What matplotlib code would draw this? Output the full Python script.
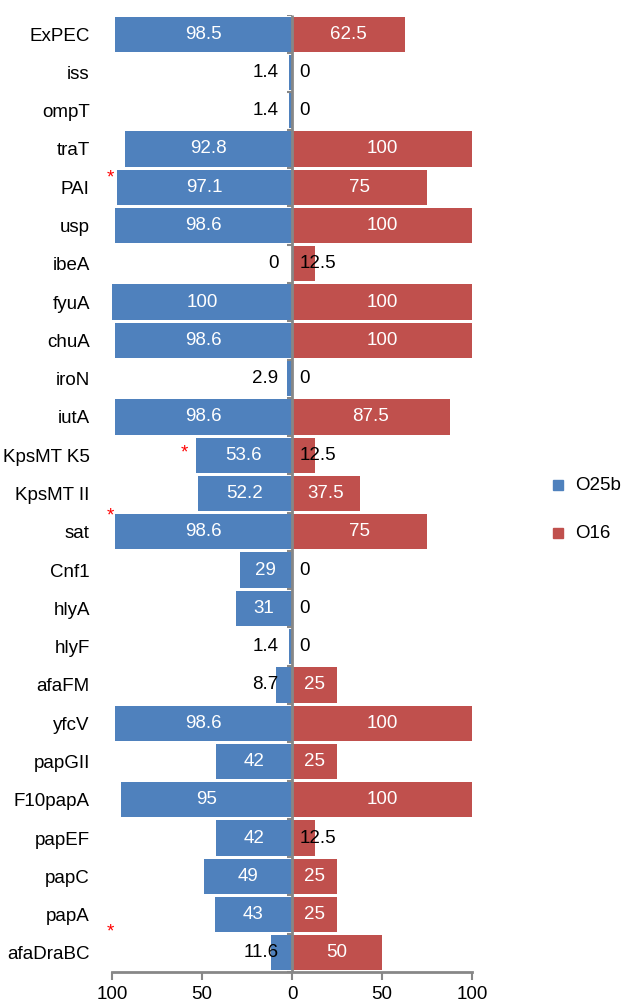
"""Diverging bar chart: virulence gene prevalence, O25b vs O16."""

import matplotlib
matplotlib.use("Agg")
import matplotlib.pyplot as plt
from matplotlib.patches import Rectangle
from matplotlib.transforms import blended_transform_factory

plt.rcParams["font.family"] = ["Liberation Sans", "DejaVu Sans"]

genes = ["ExPEC", "iss", "ompT", "traT", "PAI", "usp", "ibeA", "fyuA", "chuA",
         "iroN", "iutA", "KpsMT K5", "KpsMT II", "sat", "Cnf1", "hlyA", "hlyF",
         "afaFM", "yfcV", "papGII", "F10papA", "papEF", "papC", "papA", "afaDraBC"]
o25b = [98.5, 1.4, 1.4, 92.8, 97.1, 98.6, 0, 100, 98.6, 2.9, 98.6, 53.6, 52.2,
        98.6, 29, 31, 1.4, 8.7, 98.6, 42, 95, 42, 49, 43, 11.6]
o16 = [62.5, 0, 0, 100, 75, 100, 12.5, 100, 100, 0, 87.5, 12.5, 37.5, 75, 0, 0,
       0, 25, 100, 25, 100, 12.5, 25, 25, 50]
# genes marked with a red asterisk (significant difference)
starred = ["PAI", "KpsMT K5", "sat", "afaDraBC"]
series_names = ["O25b", "O16"]

BLUE = "#4F81BD"
RED = "#C0504D"
GREY = "#878787"
FS = 13.5

fig = plt.figure(figsize=(6.21, 10.02), dpi=100)
ax = fig.add_axes([112 / 621, 1 - 972 / 1002, 360 / 621, 957 / 1002])

ys = list(range(len(genes)))
ax.barh(ys, [-v for v in o25b], height=0.92, color=BLUE, zorder=2)
ax.barh(ys, o16, height=0.92, color=RED, zorder=2)

# value labels
for y, v in zip(ys, o25b):
    if v >= 20:
        ax.text(-v / 2, y, f"{v:g}", color="white", ha="center", va="center", fontsize=FS, zorder=4)
    else:
        ax.text(-7.5, y, f"{v:g}", color="black", ha="right", va="center", fontsize=FS, zorder=4)
for y, v in zip(ys, o16):
    if v >= 20:
        ax.text(v / 2, y, f"{v:g}", color="white", ha="center", va="center", fontsize=FS, zorder=4)
    else:
        ax.text(4.0, y, f"{v:g}", color="black", ha="left", va="center", fontsize=FS, zorder=4)

# centre axis with small ticks at category boundaries
ax.vlines(0, -0.5, len(genes) - 0.5, color=GREY, lw=2.0, zorder=3)
ax.hlines([k - 0.5 for k in range(len(genes) + 1)], -3.0, 0, color=GREY, lw=1.5, zorder=3)

# asterisks
for g in starred:
    i = genes.index(g)
    x = -101 if o25b[i] > 90 or g == "afaDraBC" else -o25b[i] - 6
    dy = {"PAI": 0.25, "KpsMT K5": 0.05, "sat": 0.40, "afaDraBC": 0.55}[g]
    ax.text(x, i - dy, "*", color="red", ha="center", va="center", fontsize=FS, zorder=4)

ax.set_xlim(-100, 100)
ax.set_ylim(len(genes) - 0.5, -0.5)
ax.set_yticks(ys, labels=genes)
ax.set_xticks([-100, -50, 0, 50, 100], labels=["100", "50", "0", "50", "100"])
ax.tick_params(axis="y", length=0, pad=16, labelsize=FS)
ax.tick_params(axis="x", length=6, width=1.5, color=GREY, pad=4, labelsize=FS)
for s in ["left", "right", "top"]:
    ax.spines[s].set_visible(False)
ax.spines["bottom"].set_color(GREY)
ax.spines["bottom"].set_linewidth(2.0)

# legend drawn by hand
for name, col, yc in zip(series_names, [BLUE, RED], [485, 533]):
    fig.add_artist(Rectangle((553 / 621, 1 - (yc + 5) / 1002), 10 / 621, 10 / 1002,
                             transform=fig.transFigure, color=col))
    fig.text(575 / 621, 1 - yc / 1002, name, ha="left", va="center", fontsize=FS)

fig.savefig("out.png", dpi=100)
